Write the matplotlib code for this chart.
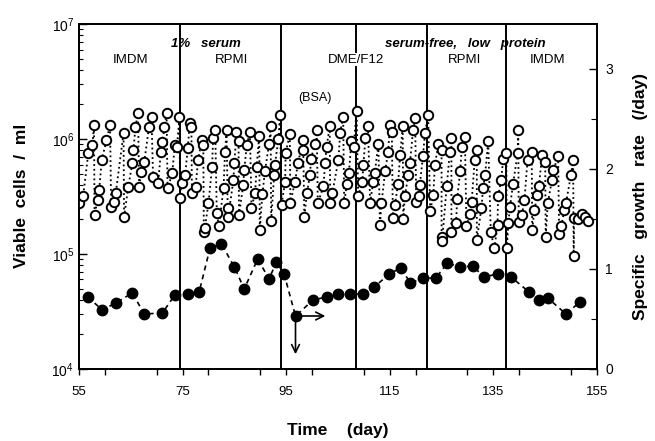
import numpy as np
import matplotlib
matplotlib.use("Agg")
import matplotlib.pyplot as plt
from matplotlib.ticker import LogLocator, MultipleLocator, NullFormatter

plt.rcParams['font.family'] = ['Liberation Sans', 'DejaVu Sans']

# viable cells (open circles), day and log10(cells/ml), in time order
open_days = [
    55.0, 55.8, 56.8, 57.6, 57.9, 58.0, 58.6, 58.9, 59.4, 60.3, 61.0, 61.2, 61.8, 62.1,
    63.6, 63.7, 64.5, 65.3, 65.5, 65.9, 66.4, 66.6, 67.0, 67.6, 68.5, 69.0, 69.3, 70.3,
    70.8, 71.1, 71.5, 71.9, 72.1, 73.0, 73.5, 73.9, 74.4, 74.5, 74.8, 75.5, 76.0, 76.4,
    76.7, 76.8, 77.5, 78.0, 78.7, 79.0, 79.1, 79.3, 80.0, 80.7, 80.9, 81.3, 81.6, 82.0,
    82.9, 83.2, 83.5, 83.7, 83.8, 84.8, 85.0, 85.4, 85.8, 85.9, 86.7, 86.9, 87.4, 88.0,
    88.3, 89.0, 89.3, 89.8, 89.9, 90.4, 90.9, 91.7, 92.0, 92.1, 92.7, 92.8, 93.5, 93.8,
    94.1, 94.8, 94.9, 95.7, 95.8, 96.7, 97.3, 98.2, 98.3, 98.5, 99.0, 99.6, 99.8, 100.6,
    100.9, 101.1, 102.2, 102.5, 102.8, 103.4, 103.5, 103.9, 105.1, 105.4, 106.0, 106.2,
    106.7, 107.1, 107.6, 108.0, 108.6, 108.9, 109.7, 109.9, 110.3, 110.8, 111.2, 111.8,
    112.1, 112.8, 113.1, 113.4, 114.1, 114.7, 115.0, 115.4, 115.6, 116.0, 116.6, 117.0,
    117.5, 117.6, 117.9, 118.6, 118.9, 119.5, 119.9, 120.1, 120.7, 120.8, 121.4, 121.8,
    122.4, 122.8, 123.4, 123.7, 124.4, 125.0, 125.0, 125.1, 126.0, 126.6, 126.9, 126.9,
    127.8, 128.0, 128.6, 128.9, 129.5, 129.8, 130.5, 130.8, 131.4, 131.8, 131.8, 132.7,
    133.0, 133.4, 134.0, 134.5, 135.2, 135.8, 135.9, 136.5, 136.9, 137.5, 137.6, 137.9,
    138.2, 138.8, 139.7, 139.8, 139.9, 140.5, 141.0, 141.6, 142.4, 142.5, 142.9, 143.5,
    143.8, 144.4, 145.0, 145.1, 145.5, 146.3, 146.6, 147.5, 147.7, 148.1, 148.7, 149.0,
    150.0, 150.4, 150.5, 150.6, 151.4, 152.1, 152.7, 153.3,
]
open_log = [
    5.44, 5.50, 5.88, 5.95, 6.12, 5.34, 5.47, 5.56, 5.82, 5.99, 6.12, 5.41, 5.45, 5.53,
    6.05, 5.32, 5.58, 5.79, 5.90, 6.10, 6.23, 5.58, 5.71, 5.80, 6.10, 6.19, 5.67, 5.62,
    5.89, 5.97, 6.10, 6.23, 5.57, 5.70, 5.95, 5.93, 6.19, 5.49, 5.62, 5.69, 5.92, 6.14,
    6.10, 5.53, 5.58, 5.82, 5.99, 5.95, 5.19, 5.23, 5.44, 5.76, 6.01, 6.08, 5.36, 5.24,
    5.57, 5.89, 6.08, 5.40, 5.32, 5.64, 5.79, 6.06, 5.98, 5.34, 5.60, 5.73, 5.95, 6.06,
    5.40, 5.53, 5.76, 6.03, 5.21, 5.52, 5.72, 5.96, 6.11, 5.29, 5.69, 5.77, 6.00, 6.21,
    5.43, 5.63, 5.88, 6.04, 5.44, 5.63, 5.79, 5.99, 5.90, 5.32, 5.53, 5.69, 5.83, 5.96,
    6.08, 5.44, 5.59, 5.79, 5.93, 6.11, 5.44, 5.53, 5.82, 6.05, 6.19, 5.44,
    5.61, 5.70, 5.98, 5.93, 6.24, 5.50, 5.63, 5.77, 6.01, 6.11, 5.44, 5.63,
    5.70, 5.96, 5.25, 5.44, 5.72, 5.89, 6.12, 6.06, 5.31, 5.43, 5.61, 5.86,
    6.11, 5.30, 5.50, 5.69, 5.79, 6.08, 6.18, 5.45, 5.50, 5.60, 5.85, 6.05,
    6.21, 5.37, 5.51, 5.77, 5.96, 5.90, 5.15, 5.11, 5.59, 5.89, 6.01, 5.19,
    5.27, 5.48, 5.72, 5.93, 6.02, 5.24, 5.35, 5.45, 5.82, 5.90, 5.12, 5.40,
    5.57, 5.69, 5.98, 5.19, 5.05, 5.25, 5.50, 5.64, 5.83, 5.88, 5.05, 5.27,
    5.41, 5.61, 5.88, 6.08, 5.28, 5.34, 5.47, 5.82, 5.89, 5.21, 5.38, 5.51,
    5.59, 5.86, 5.80, 5.15, 5.44, 5.64, 5.73, 5.85, 5.17, 5.24, 5.38, 5.44,
    5.69, 5.82, 4.98, 5.31, 5.30, 5.35, 5.32, 5.29,
]

# specific growth rate (filled circles, right axis, /day)
mu_days = [56.7, 59.5, 62.1, 65.3, 67.6, 71.1, 73.5, 76.0, 78.2, 80.3, 82.5, 85.0, 86.9,
           89.5, 91.7, 93.1, 94.6, 96.8, 100.2, 102.8, 105.1, 107.3, 109.9, 112.0, 114.9,
           117.1, 119.0, 121.5, 123.9, 126.1, 128.6, 131.0, 133.2, 135.8, 138.4, 141.9,
           143.8, 145.5, 149.0, 151.7]
mu_vals = [0.72, 0.59, 0.66, 0.76, 0.55, 0.56, 0.74, 0.75, 0.77, 1.21, 1.25, 1.02, 0.80,
           1.10, 0.90, 1.07, 0.95, 0.53, 0.69, 0.72, 0.75, 0.75, 0.75, 0.82, 0.95,
           1.01, 0.86, 0.91, 0.91, 1.06, 1.02, 1.03, 0.92, 0.95, 0.92, 0.77,
           0.69, 0.71, 0.55, 0.67]

# medium changes (day) and labels
change_days = [74.5, 94.0, 108.5, 122.2, 137.4]
medium_labels = [(65, "IMDM"), (84.5, "RPMI"), (108.5, "DME/F12"), (129.5, "RPMI"), (145.5, "IMDM")]

fig = plt.figure(figsize=(6.55, 4.41), dpi=100)
ax = fig.add_axes([0.1206, 0.1633, 0.7908, 0.7823])
ax2 = ax.twinx()

for d in change_days:
    ax.axvline(d, color='black', lw=1.4, zorder=1)

cells = 10 ** np.array(open_log)
ax.plot(open_days, cells, linestyle=':', color='black', lw=1.3,
        marker='o', ms=6.8, mfc='white', mec='black', mew=1.4, zorder=3)

ax2.plot(mu_days, mu_vals, linestyle='--', color='black', lw=1.2, dashes=(3, 2.5),
         marker='o', ms=7.5, mfc='black', mec='black', zorder=3)

ax.set_xlim(55, 155)
ax.set_yscale('log')
ax.set_ylim(1e4, 1e7)
ax2.set_ylim(0, 3.45)

ax.set_xticks(range(55, 156, 20))
ax.xaxis.set_minor_locator(MultipleLocator(10))
ax.tick_params(axis='x', which='both', direction='out', length=4, width=1,
               labelsize=9.5, pad=8)
ax.yaxis.set_major_locator(LogLocator(base=10, numticks=10))
ax.yaxis.set_minor_locator(LogLocator(base=10, subs=np.arange(2, 10), numticks=10))
ax.yaxis.set_minor_formatter(NullFormatter())
ax.tick_params(axis='y', which='major', direction='in', length=6, width=1, labelsize=10)
ax.tick_params(axis='y', which='minor', direction='in', length=3, width=0.8)
ax.tick_params(axis='x', which='both', top=False)

ax2.set_yticks([0, 1, 2, 3])
ax2.yaxis.set_minor_locator(MultipleLocator(0.5))
ax2.tick_params(axis='y', which='major', direction='in', length=6, width=1, labelsize=10, pad=6)
ax2.tick_params(axis='y', which='minor', direction='in', length=4, width=0.8)

for a in (ax, ax2):
    for s in a.spines.values():
        s.set_linewidth(1.3)

for d, txt in medium_labels:
    ax.text(d, 10 ** 6.69, txt, ha='center', va='center', fontsize=9.5,
            bbox=dict(facecolor='white', edgecolor='none', pad=0.5) if txt == "DME/F12" else None,
            zorder=4)
ax.text(79.5, 10 ** 6.83, "1%   serum", ha='center', va='center', fontsize=9.5,
        fontweight='bold', style='italic')
ax.text(129.5, 10 ** 6.83, "serum-free,   low   protein", ha='center', va='center',
        fontsize=9.5, fontweight='bold', style='italic')
ax.text(100.5, 10 ** 6.36, "(BSA)", ha='center', va='center', fontsize=9)

# arrows from the lowest growth-rate point after the switch to DME/F12
px, py = mu_days[17], mu_vals[17]
ax2.annotate("", xy=(px, 0.12), xytext=(px, py),
             arrowprops=dict(arrowstyle='->', color='black', lw=1.2, mutation_scale=14))
ax2.annotate("", xy=(px + 6.3, py), xytext=(px, py),
             arrowprops=dict(arrowstyle='->', color='black', lw=1.2, mutation_scale=14))

fig.text(22 / 655, 1 - 196 / 441, "Viable  cells  /  ml", rotation=90, ha='center',
         va='center', fontsize=12.5, fontweight='bold')
fig.text(640 / 655, 1 - 196 / 441, "Specific   growth   rate   (/day)", rotation=90,
         ha='center', va='center', fontsize=12.5, fontweight='bold')
fig.text(338 / 655, 1 - 430 / 441, "Time    (day)", ha='center', va='center',
         fontsize=12.5, fontweight='bold')

fig.savefig("out.png", dpi=100)
